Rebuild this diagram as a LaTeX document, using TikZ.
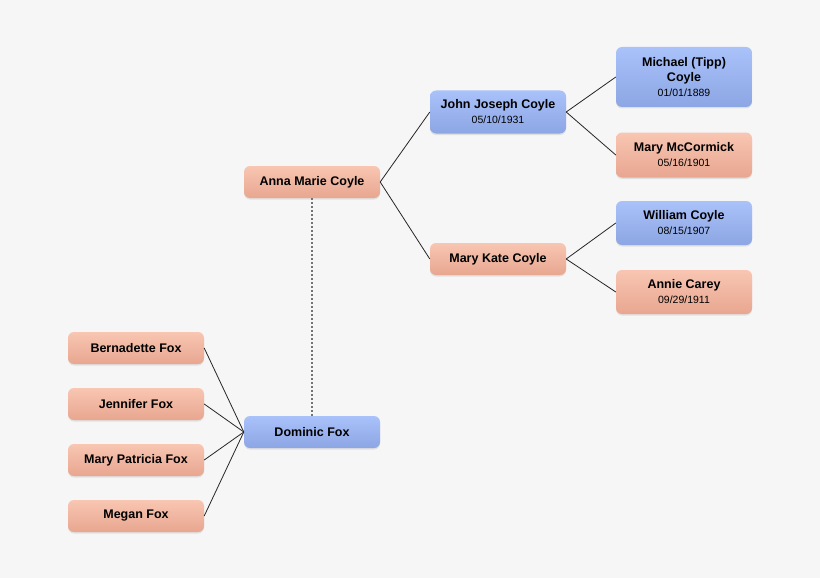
\documentclass[tikz,border=0pt]{standalone}
\usepackage{fontspec}
\setmainfont{Liberation Sans}
\usetikzlibrary{shadows}

\definecolor{bg}{HTML}{F6F6F6}
\definecolor{rosetop}{HTML}{F8C6B2}
\definecolor{rosebot}{HTML}{E8A690}
\definecolor{bluetop}{HTML}{AAC2FA}
\definecolor{bluebot}{HTML}{8CA6E4}
\newcommand{\born}[1]{\\[1pt]{\mdseries\fontsize{10.5}{12}\selectfont #1}}

\begin{document}
\begin{tikzpicture}[x=1pt,y=-1pt,
	person/.style={rounded corners=6pt,minimum width=136pt,minimum height=32pt,
		align=center,inner sep=2pt,font=\bfseries\fontsize{12.5}{14}\selectfont,
		drop shadow={opacity=.18,shadow xshift=0pt,shadow yshift=-1.5pt}},
	male/.style={person,top color=bluetop,bottom color=bluebot},
	female/.style={person,top color=rosetop,bottom color=rosebot},
	link/.style={black!85,line width=.8pt}]
	\useasboundingbox[fill=bg] (0,0) rectangle (820,578);
	%avos
	\node[male,minimum height=60pt] (michael) at (684,77) {Michael (Tipp)\\[1.5pt] Coyle\born{01/01/1889}};
	\node[female,minimum height=45pt] (mccormick) at (684,155) {Mary McCormick\born{05/16/1901}};
	\node[male,minimum height=44pt] (william) at (684,223) {William Coyle\born{08/15/1907}};
	\node[female,minimum height=44pt] (carey) at (684,292) {Annie Carey\born{09/29/1911}};
	%pais
	\node[male,minimum height=43pt] (john) at (498,112) {John Joseph Coyle\born{05/10/1931}};
	\node[female] (marykate) at (498,259) {Mary Kate Coyle};
	%casal
	\node[female] (anna) at (312,182) {Anna Marie Coyle};
	\node[male] (dominic) at (312,432) {Dominic Fox};
	%filhas
	\node[female] (bernadette) at (136,348) {Bernadette Fox};
	\node[female] (jennifer) at (136,404) {Jennifer Fox};
	\node[female] (marypatricia) at (136,460) {Mary Patricia Fox};
	\node[female] (megan) at (136,516) {Megan Fox};
	%ligacoes
	\draw[link] (john.east) -- (michael.west);
	\draw[link] (john.east) -- (mccormick.west);
	\draw[link] (marykate.east) -- (william.west);
	\draw[link] (marykate.east) -- (carey.west);
	\draw[link] (anna.east) -- (john.west);
	\draw[link] (anna.east) -- (marykate.west);
	\foreach \k in {bernadette,jennifer,marypatricia,megan}
		\draw[link] (dominic.west) -- (\k.east);
	\draw[black!55,line width=1.3pt,dash pattern=on 2pt off 2pt] (anna.south) -- (dominic.north);
\end{tikzpicture}
\end{document}
